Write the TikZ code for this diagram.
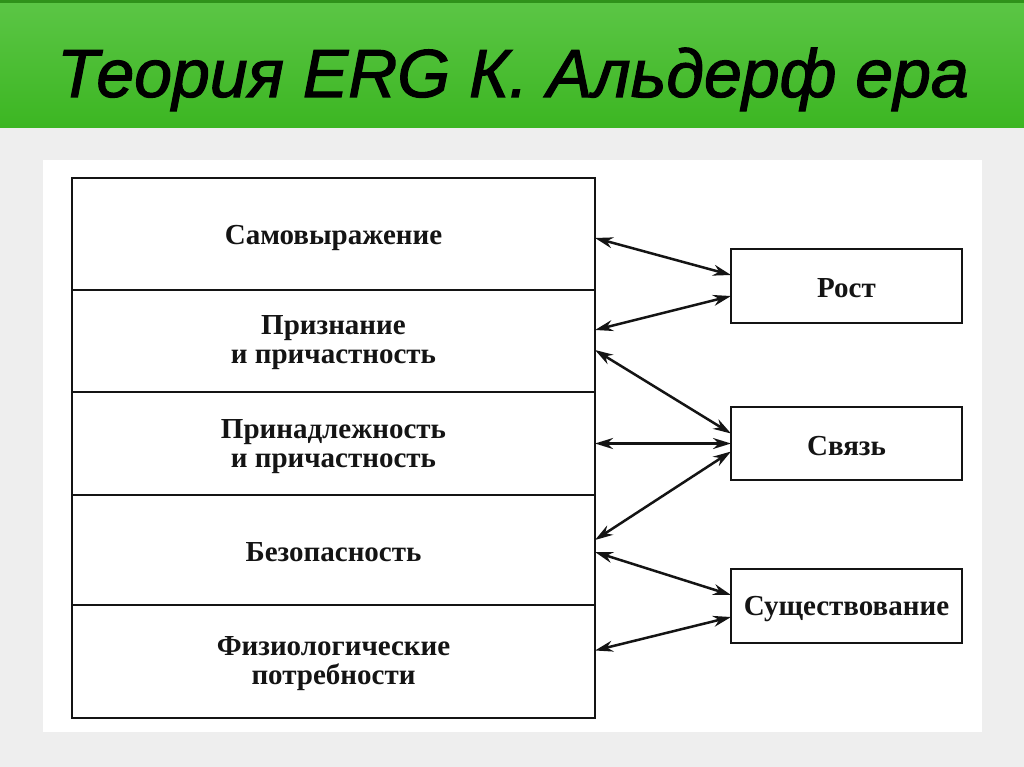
\documentclass[tikz,border=0pt]{standalone}
\usepackage{fontspec}
\setmainfont{Liberation Serif}
\newfontfamily\titlefont[FakeBold=1.6,ItalicFeatures={FakeBold=1.6}]{Liberation Sans}
\usetikzlibrary{arrows.meta}
\definecolor{bggrey}{RGB}{238,238,238}
\definecolor{gtop}{RGB}{92,198,70}
\definecolor{gmid}{RGB}{108,210,84}
\definecolor{gbot}{RGB}{60,182,34}
\definecolor{ink}{RGB}{20,20,20}
\tikzset{
  boxtext/.style={font=\fontsize{29}{29}\selectfont\bfseries, text=ink, align=center, inner sep=0pt},
  rowbox/.style={draw=ink, line width=2.6pt, minimum width=523pt, outer sep=0pt,
    inner sep=0pt, anchor=north west},
  catbox/.style={draw=ink, line width=2.6pt, minimum width=231pt, outer sep=0pt,
    inner sep=0pt, anchor=north west},
  link/.style={draw=ink, line width=2.5pt, {Stealth[length=18pt,width=11pt]}-{Stealth[length=18pt,width=11pt]}},
}
\begin{document}
\begin{tikzpicture}[x=1pt,y=-1pt]
\useasboundingbox (0,0) rectangle (1024,767);
\fill[bggrey] (0,0) rectangle (1024,767);
\shade[top color=gtop, middle color=gmid, bottom color=gbot] (0,0) rectangle (1024,128);
\fill[gbot!80!black] (0,0) rectangle (1024,3);
\fill[white] (43,160) rectangle (982,732);
\node[anchor=base, font=\titlefont\itshape\fontsize{68}{70}\selectfont, text=black] (title) at (513,97) {Теория ERG К. Альдерф ера};
% left stack
\node[rowbox, minimum height=112pt, label={[boxtext, yshift=-4pt]center:Самовыражение}] (r1) at (72,178) {};
\node[rowbox, minimum height=102pt, label={[boxtext, yshift=-2pt]center:{Признание\\и причастность}}] (r2) at (72,290) {};
\node[rowbox, minimum height=103pt, label={[boxtext, yshift=-3pt]center:{Принадлежность\\и причастность}}] (r3) at (72,392) {};
\node[rowbox, minimum height=110pt, label={[boxtext, yshift=-2pt]center:Безопасность}] (r4) at (72,495) {};
\node[rowbox, minimum height=113pt, label={[boxtext, yshift=-2pt]center:{Физиологические\\потребности}}] (r5) at (72,605) {};
% right boxes
\node[catbox, minimum height=74pt, label={[boxtext, yshift=-2pt]center:Рост}] (g) at (731,249) {};
\node[catbox, minimum height=73pt, label={[boxtext, yshift=-3pt]center:Связь}] (s) at (731,407) {};
\node[catbox, minimum height=74pt, label={[boxtext, yshift=-3pt]center:Существование}] (e) at (731,569) {};
% connectors
\draw[link] ([yshift=-4pt]r1.east) -- ([yshift=11pt]g.west);
\draw[link] ([yshift=11pt]r2.east) -- ([yshift=-10pt]g.west);
\draw[link] ([yshift=-9pt]r2.east) -- ([yshift=10pt]s.west);
\draw[link] (r3.east) -- (s.west);
\draw[link] ([yshift=10pt]r4.east) -- ([yshift=-8pt]s.west);
\draw[link] ([yshift=-2pt]r4.east) -- ([yshift=11pt]e.west);
\draw[link] ([yshift=11pt]r5.east) -- ([yshift=-11pt]e.west);
\end{tikzpicture}
\end{document}
